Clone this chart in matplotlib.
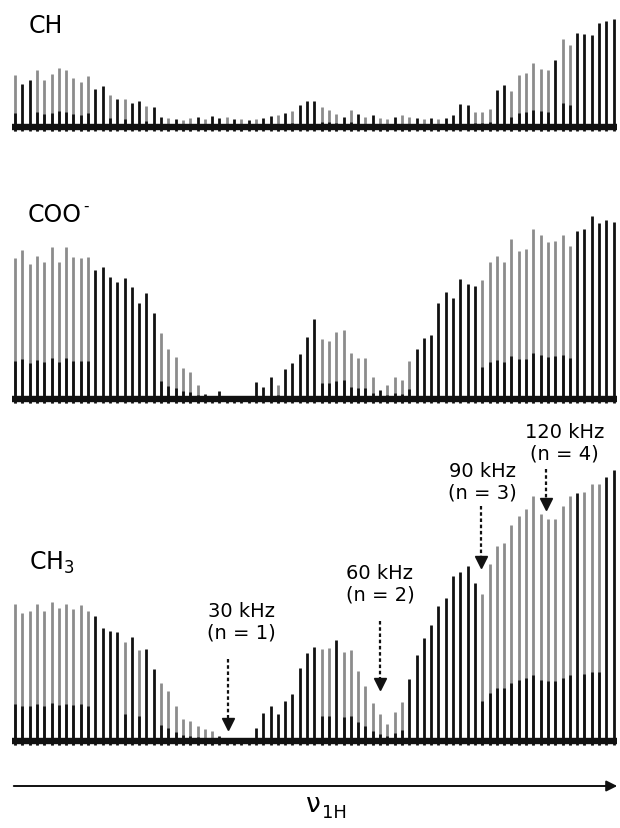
import numpy as np
import matplotlib
matplotlib.use("Agg")
import matplotlib.pyplot as plt

plt.rcParams['font.family'] = ['DejaVu Sans']
plt.rcParams['mathtext.default'] = 'regular'

W, H = 620, 829
X0, DX = 15, 7.3   # pixel position of first sideband and spacing

# sideband intensities (one spike per 1H frequency step)
ch_heights = [52, 43, 47, 57, 47, 53, 59, 57, 49, 45, 51, 38, 41, 32, 28, 28, 24, 26, 21, 20,
              10, 9, 8, 7, 9, 10, 8, 11, 9, 10, 8, 8, 7, 8, 9, 11, 12, 14, 16, 22, 26,
              26, 20, 17, 13, 10, 17, 13, 10, 12, 9, 8, 10, 12, 10, 9, 8, 9, 8, 9, 12,
              23, 22, 15, 15, 18, 37, 42, 36, 52, 54, 64, 58, 57, 67, 88, 82, 94, 93, 92, 104, 106, 108]
coo_heights = [141, 149, 135, 143, 137, 152, 137, 152, 142, 141, 142, 129, 132, 122, 117, 121, 112, 96, 106, 86,
               66, 50, 42, 31, 27, 14, 5, 3, 8, 3, 3, 3, 2, 17, 12, 22, 14, 30, 36, 45, 62,
               80, 60, 58, 67, 69, 46, 41, 41, 22, 9, 14, 22, 19, 38, 50, 61, 64, 96, 107, 101,
               120, 115, 113, 119, 137, 143, 137, 160, 148, 150, 170, 164, 157, 158, 164, 153, 168, 170, 183, 176, 179, 177]
ch3_heights = [137, 128, 130, 137, 130, 139, 133, 137, 132, 136, 130, 125, 113, 110, 109, 99, 104, 91, 92, 72,
               58, 50, 35, 22, 20, 15, 12, 10, 5, 3, 3, 3, 3, 13, 28, 35, 27, 40, 47, 73, 88,
               94, 92, 93, 101, 89, 91, 70, 55, 38, 27, 17, 29, 39, 62, 86, 103, 116, 135, 143, 165,
               169, 175, 158, 147, 177, 195, 198, 216, 225, 232, 245, 227, 222, 222, 235, 245, 248, 249, 257, 257, 264, 271]

# which trace each spike belongs to (g = grey, k = black)
ch_colors = ("gkkggggggggkkgkgkkgk" + "kgkggkgkkgkgkgkkgkgkk"
             + "kgggkgkgkggkggkgkgkk" + "kkgggkkggggggkggkkkkkk")
coo_colors = ("g" * 11 + "k" * 9 + "g" * 6 + "k" * 7 + "kkkgkkkk"
              + "k" + "g" * 8 + "k" + "g" * 4 + "k" * 9 + "g" * 13 + "k" * 6)
ch3_colors = ("g" * 11 + "kkkkgkgkk" + "g" * 8 + "k" * 5 + "k" * 8
              + "kggk" + "g" * 9 + "k" * 10 + "g" * 13 + "kgggkk")

labels = ["CH", "COO", "CH$_3$"]

# annotations on the CH3 panel: text, text position, arrow x, arrow start/end
ann_text = ["30 kHz\n(n = 1)", "60 kHz\n(n = 2)", "90 kHz\n(n = 3)", "120 kHz\n(n = 4)"]
ann_text_x = [31.0, 50.0, 64.0, 75.3]
ann_text_y = [120, 158, 260, 299]
ann_arrow_x = [29.2, 50.0, 63.8, 72.7]
ann_arrow_top = [82, 120, 235, 272]
ann_arrow_tip = [12, 52, 174, 232]

GREY = "#8c8c8c"
BLACK = "#111111"

fig = plt.figure(figsize=(W / 100, H / 100), dpi=100)


def add_panel(top, base, bottom):
    # axes whose y unit is one pixel, baseline at pixel row `base`
    ax = fig.add_axes([0, 1 - bottom / H, 1, (bottom - top) / H])
    ax.set_xlim(-X0 / DX, (W - X0) / DX)
    ax.set_ylim(-(bottom - base), base - top)
    ax.axis("off")
    return ax


def draw_spikes(ax, heights, colors):
    h = np.array(heights, dtype=float)
    x = np.arange(len(h))
    c = np.array(list(colors))
    g = c == "g"
    k = ~g
    ax.vlines(x[g], -4, h[g], color=GREY, lw=2.0)
    ax.vlines(x[g], -4, 0.27 * h[g], color=BLACK, lw=2.0)
    ax.vlines(x[k], -4, h[k], color=BLACK, lw=2.0)
    ax.plot([-0.4, len(h) - 0.5], [0, 0], color=BLACK, lw=4.6, solid_capstyle="butt")


panels = [(8, 128, 150, ch_heights, ch_colors),
          (190, 400, 420, coo_heights, coo_colors),
          (400, 742, 765, ch3_heights, ch3_colors)]
axes = []
for top, base, bottom, hts, cols in panels:
    ax = add_panel(top, base, bottom)
    draw_spikes(ax, hts, cols)
    axes.append(ax)

# panel labels
fig.text(29 / W, 1 - 33 / H, labels[0], fontsize=17, va="baseline")
fig.text(28 / W, 1 - 222 / H, labels[1], fontsize=17, va="baseline")
fig.text(83 / W, 1 - 211 / H, "-", fontsize=11, va="baseline")
fig.text(29 / W, 1 - 570 / H, labels[2], fontsize=17, va="baseline")

# dashed arrows with kHz labels
ax3 = axes[2]
for t, tx, ty, ax_x, a0, a1 in zip(ann_text, ann_text_x, ann_text_y,
                                   ann_arrow_x, ann_arrow_top, ann_arrow_tip):
    ax3.text(tx, ty, t, fontsize=14, ha="center", va="center", linespacing=1.15)
    ax3.plot([ax_x, ax_x], [a0, a1 + 6], color=BLACK, lw=1.6, ls=(0, (1.6, 1.2)))
    ax3.plot(ax_x, a1 + 5, marker="v", ms=9, color=BLACK, mec=BLACK)

# frequency axis arrow
fig.add_artist(matplotlib.patches.FancyArrowPatch(
    (11 / W, 1 - 787 / H), (620 / W, 1 - 787 / H), transform=fig.transFigure,
    arrowstyle="-|>", mutation_scale=16, color=BLACK, lw=1.4))
fig.text(313 / W, 1 - 812 / H, "ν", fontsize=19, ha="center", va="baseline")
fig.text(322 / W, 1 - 818 / H, "1H", fontsize=13, ha="left", va="baseline")

fig.savefig("out.png", dpi=100)
